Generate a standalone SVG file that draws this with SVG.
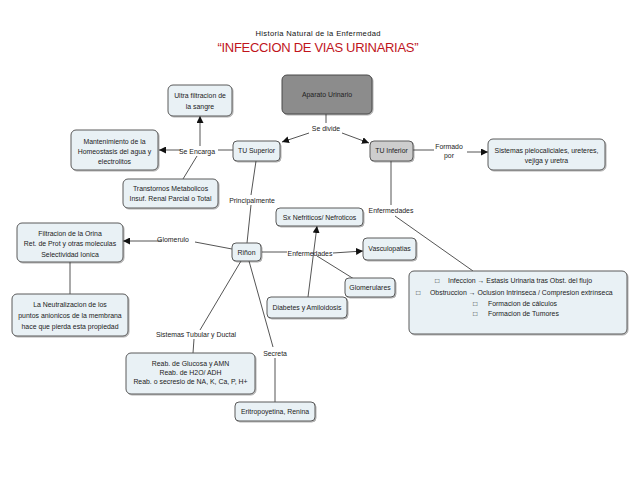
<svg xmlns="http://www.w3.org/2000/svg" width="638" height="493" viewBox="0 0 638 493">
<style>
.n rect{fill:#e9f1f5;stroke:#5a5a5a;stroke-width:1;filter:url(#sh)}
.t{font-family:"Liberation Sans",Arial,sans-serif;font-size:6.9px;fill:#222;text-anchor:middle}
.s{font-family:"Liberation Sans",Arial,sans-serif;font-size:6.9px;fill:#222;text-anchor:start}
.c line,.c path{stroke:#555;stroke-width:1;fill:none}
.a{marker-end:url(#ar)}
</style>
<defs>
<filter id="sh" x="-10%" y="-20%" width="125%" height="150%"><feDropShadow dx="1" dy="1" stdDeviation="0.7" flood-color="#000" flood-opacity="0.3"/></filter>
<marker id="ar" markerUnits="userSpaceOnUse" markerWidth="8" markerHeight="7" refX="7" refY="3.5" orient="auto"><path d="M0,0 L7,3.5 L0,7 z" fill="#111"/></marker>
</defs>
<rect width="638" height="493" fill="#fff"/>
<text x="318" y="35.5" style="font-family:'Liberation Sans',Arial,sans-serif;font-size:7.6px;fill:#111;text-anchor:middle" textLength="125">Historia Natural de la Enfermedad</text>
<text x="318" y="52" style="font-family:'Liberation Sans',Arial,sans-serif;font-size:13px;fill:#c0141c;text-anchor:middle" textLength="201">“INFECCION DE VIAS URINARIAS”</text>

<g class="c">
<line x1="326" y1="114" x2="326" y2="123"/>
<line class="a" x1="309" y1="133" x2="282" y2="142"/>
<line class="a" x1="342" y1="133" x2="369" y2="143"/>
<line x1="233" y1="150" x2="218" y2="150"/>
<line class="a" x1="200" y1="146" x2="200" y2="116"/>
<line class="a" x1="181" y1="150" x2="159" y2="150"/>
<line x1="197" y1="156" x2="183" y2="179"/>
<line x1="256" y1="161" x2="251" y2="195"/>
<line x1="251" y1="205" x2="247" y2="243"/>
<line x1="413" y1="150" x2="434" y2="150"/>
<line class="a" x1="467" y1="152" x2="488" y2="152"/>
<line x1="391" y1="161" x2="391" y2="205"/>
<line x1="395" y1="216" x2="473" y2="271"/>
<line x1="232" y1="249" x2="195" y2="242"/>
<line class="a" x1="162" y1="241" x2="123" y2="241"/>
<line x1="70" y1="262" x2="70" y2="294"/>
<line x1="262" y1="252" x2="287" y2="252"/>
<line class="a" x1="333" y1="253" x2="363" y2="251"/>
<line x1="317" y1="256" x2="354" y2="279"/>
<line class="a" x1="308" y1="297" x2="317" y2="226"/>
<line x1="241" y1="261" x2="200" y2="330"/>
<line x1="194" y1="339" x2="193" y2="353"/>
<line x1="249" y1="261" x2="273" y2="347"/>
<line x1="275" y1="358" x2="275" y2="402"/>
</g>

<g class="t">
<text x="326" y="130.5">Se divide</text>
<text x="197" y="153.5">Se Encarga</text>
<text x="449" y="148.5">Formado</text>
<text x="449" y="157.5">por</text>
<text x="252" y="202.5">Principalmente</text>
<text x="391" y="212.5">Enfermedades</text>
<text x="173" y="241.5">Glomerulo</text>
<text x="310" y="255.5">Enfermedades</text>
<text x="196" y="337">Sistemas Tubular y Ductal</text>
<text x="275" y="355.5">Secreta</text>
</g>

<g id="aparato"><rect x="282" y="75" width="90" height="39" rx="5" fill="#8c8c8c" stroke="#4a4a4a" filter="url(#sh)"/><text class="t" x="327" y="96.5">Aparato Urinario</text></g>
<g id="ultra" class="n"><rect x="168" y="85" width="64" height="31" rx="5"/><text class="t" x="200" y="98">Ultra filtracion de</text><text class="t" x="200" y="108.5">la sangre</text></g>
<g id="mantenimiento" class="n"><rect x="71" y="130" width="87" height="40" rx="5"/><text class="t" x="114.5" y="143.5">Mantenimiento de la</text><text class="t" x="114.5" y="153.5">Homeostasis del agua y</text><text class="t" x="114.5" y="163.5">electrolitos</text></g>
<g id="tusuperior" class="n"><rect x="233" y="141" width="47" height="20" rx="4"/><text class="t" x="256.5" y="153">TU Superior</text></g>
<g id="tuinferior"><rect x="370" y="141" width="43" height="20" rx="4" fill="#cdcdcd" stroke="#5a5a5a" filter="url(#sh)"/><text class="t" x="391.5" y="153">TU Inferior</text></g>
<g id="sistemas" class="n"><rect x="488" y="139" width="117" height="31" rx="5"/><text class="t" x="546.5" y="153">Sistemas pielocaliciales, ureteres,</text><text class="t" x="546.5" y="162.5">vejiga y uretra</text></g>
<g id="transtornos" class="n"><rect x="123" y="179" width="95" height="29" rx="5"/><text class="t" x="170.5" y="190.5">Transtornos Metabolicos</text><text class="t" x="170.5" y="200.5">Insuf. Renal Parcial o Total</text></g>
<g id="sx" class="n"><rect x="276" y="208" width="87" height="18" rx="4"/><text class="t" x="319.5" y="219.5">Sx Nefriticos/ Nefroticos</text></g>
<g id="filtracion" class="n"><rect x="17" y="223" width="106" height="39" rx="5"/><text class="t" x="70" y="235.5">Filtracion de la Orina</text><text class="t" x="70" y="246">Ret. de Prot y otras moleculas</text><text class="t" x="70" y="256.5">Selectividad Ionica</text></g>
<g id="rinon" class="n"><rect x="232" y="243" width="29" height="18" rx="4"/><text class="t" x="246.5" y="254.5">Riñon</text></g>
<g id="vasculopatias" class="n"><rect x="363" y="238" width="53" height="22" rx="4"/><text class="t" x="389.5" y="251">Vasculopatias</text></g>
<g id="glomerulares" class="n"><rect x="345" y="278" width="50" height="19" rx="4"/><text class="t" x="370" y="290">Glomerulares</text></g>
<g id="diabetes" class="n"><rect x="267" y="297" width="80" height="21" rx="4"/><text class="t" x="307" y="310">Diabetes y Amiloidosis</text></g>
<g id="neutralizacion" class="n"><rect x="12" y="294" width="116" height="42" rx="5"/><text class="t" x="70" y="306.5">La Neutralizacion de los</text><text class="t" x="70" y="317.5">puntos anionicos de la membrana</text><text class="t" x="70" y="328.5">hace que pierda esta propiedad</text></g>
<g id="infeccion" class="n"><rect x="409" y="271" width="218" height="63" rx="5"/>
<text class="s" x="435" y="283">□</text><text class="s" x="448" y="283">Infeccion → Estasis Urinaria tras Obst. del flujo</text>
<text class="s" x="416" y="294.5">□</text><text class="s" x="430" y="294.5">Obstruccion → Oclusion Intrinseca / Compresion extrínseca</text>
<text class="s" x="473" y="305.5">□</text><text class="s" x="488" y="305.5">Formacion de cálculos</text>
<text class="s" x="473" y="315.5">□</text><text class="s" x="488" y="315.5">Formacion de Tumores</text></g>
<g id="reab" class="n"><rect x="126" y="353" width="129" height="41" rx="5"/><text class="t" x="190.5" y="365.5">Reab. de Glucosa y AMN</text><text class="t" x="190.5" y="374.5">Reab. de H2O/ ADH</text><text class="t" x="190.5" y="383.5">Reab. o secresio  de NA, K, Ca, P, H+</text></g>
<g id="eritro" class="n"><rect x="235" y="402" width="80" height="19" rx="4"/><text class="t" x="275" y="414">Eritropoyetina, Renina</text></g>
</svg>
